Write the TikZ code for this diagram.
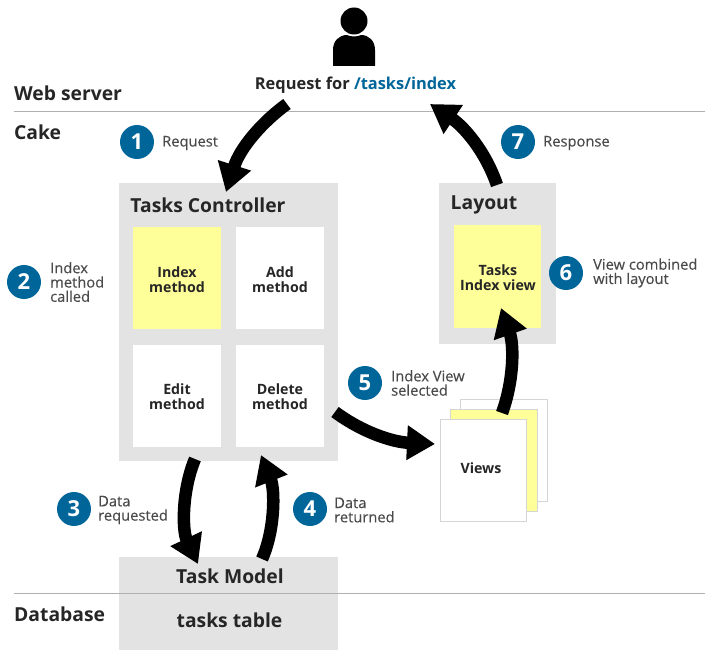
\documentclass[tikz,border=0pt]{standalone}
\usepackage{fontspec}
\setmainfont{Open Sans}
\newfontfamily\labfont[FakeBold=0.25]{Open Sans}
\usetikzlibrary{arrows.meta}
\definecolor{bluec}{HTML}{00669A}
\definecolor{greyb}{HTML}{E3E3E3}
\definecolor{yell}{HTML}{FFFF99}
\definecolor{rulec}{HTML}{B0B0B0}
\definecolor{edgec}{HTML}{D5D5D5}
\definecolor{labc}{HTML}{4A4A4A}
\tikzset{
  x=1pt,y=-1pt,
  panel/.style={fill=greyb,draw=none},
  card/.style={fill=white,draw=none},
  note/.style={fill=yell,draw=none},
  sheet/.style={draw=edgec,line width=1pt},
  head/.style={font=\fontsize{19.3}{23}\selectfont\bfseries\color{black!85}},
  sect/.style={font=\fontsize{19.3}{23}\selectfont\bfseries\color{black!85},anchor=west,inner sep=0pt},
  meth/.style={font=\fontsize{14.2}{15}\selectfont\bfseries\color{black!85},align=center},
  lab/.style={font=\labfont\fontsize{14.7}{14.3}\selectfont\color{labc},align=left,anchor=west,inner sep=0pt},
  badge/.style={circle,fill=bluec,text=white,minimum size=34pt,inner sep=0pt,font=\fontsize{22}{22}\selectfont\bfseries},
  flow/.style={line width=12.5pt,-{Triangle[width=33pt,length=28pt]},black},
}
\begin{document}
\begin{tikzpicture}
\useasboundingbox (0,0) rectangle (705,650);
% panels
\path[panel] (119,183) rectangle (338,461);
\path[panel] (439,183) rectangle (556,344);
\path[panel] (119,557) rectangle (338,650);
\path[note] (133,227) rectangle (221,329);
\path[card] (236,227) rectangle (324,329);
\path[card] (133,345) rectangle (221,447);
\path[card] (236,345) rectangle (324,447);
\path[note] (454,225) rectangle (541,328);
% rules
\coordinate (ruleA) at (14,112); \coordinate (ruleAe) at (705,112);
\coordinate (ruleB) at (14,593); \coordinate (ruleBe) at (705,593);
\draw[rulec,line width=1pt] (ruleA) -- (ruleAe);
\draw[rulec,line width=1pt] (ruleB) -- (ruleBe);
% views stack
\path[sheet,fill=white] (460,399) rectangle (547,501);
\path[sheet,fill=yell] (450,409) rectangle (537,511);
\path[sheet,fill=white] (440,419) rectangle (526,521);
% person
\fill[black] (354,21) circle (13.5);
\fill[black] (333,66) -- (333,50) .. controls (333,41) and (339,35) .. (347,35) .. controls (351,37) and (357,37) .. (361,35) .. controls (369,35) and (375,41) .. (375,50) -- (375,66) -- cycle;
% text
\node[font=\fontsize{16.4}{18}\selectfont\bfseries\color{black!85}] (req) at (355.5,85) {Request for \textcolor{bluec}{/tasks/index}};
\node[sect] (web) at (14,93) {Web server};
\node[sect] (cake) at (14,132) {Cake};
\node[sect] (db) at (14,614) {Database};
\node[head] (tc) at (208,205) {Tasks Controller};
\node[head] (lay) at (484,205) {Layout};
\node[head] (tm) at (230,576) {Task Model};
\node[head] (tt) at (229.5,620) {tasks table};
\node[meth] (m1) at (177,280) {Index\\method};
\node[meth] (m2) at (280,280) {Add\\method};
\node[meth] (m3) at (177,397) {Edit\\method};
\node[meth] (m4) at (280,397) {Delete\\method};
\node[meth] (tiv) at (498,278) {Tasks\\Index view};
\node[meth] (vw) at (481,468) {Views};
% badges
\node[badge] (b1) at (137,142) {1};
\node[badge] (b2) at (24,282) {2};
\node[badge] (b3) at (74,509) {3};
\node[badge] (b4) at (310,509) {4};
\node[badge] (b5) at (365,383) {5};
\node[badge] (b6) at (566,273) {6};
\node[badge] (b7) at (518,142) {7};
\node[lab] (l1) at (162,143) {Request};
\node[lab] (l2) at (50,282) {Index\\method\\called};
\node[lab] (l3) at (98,510) {Data\\requested};
\node[lab] (l4) at (334,510) {Data\\returned};
\node[lab] (l5) at (391,383) {Index View\\selected};
\node[lab] (l6) at (593,273) {View combined\\with layout};
\node[lab] (l7) at (543,143) {Response};
% connector ends
\coordinate (a1s) at (287,104); \coordinate (a1e) at (226,192);
\coordinate (a7s) at (497,185); \coordinate (a7e) at (430,104);
\coordinate (a3s) at (195,459); \coordinate (a3e) at (198,564);
\coordinate (a4s) at (262,559); \coordinate (a4e) at (261,455);
\coordinate (a5s) at (335,412); \coordinate (a5e) at (435,444);
\coordinate (a6s) at (502,413); \coordinate (a6e) at (501,308);
\draw[flow] (a1s) .. controls (262,122) and (240,148) .. (a1e);
\draw[flow] (a7s) .. controls (485,150) and (463,126) .. (a7e);
\draw[flow] (a3s) .. controls (182,490) and (182,530) .. (a3e);
\draw[flow] (a4s) .. controls (275,530) and (275,490) .. (a4e);
\draw[flow] (a5s) .. controls (362,432) and (392,442) .. (a5e);
\draw[flow] (a6s) .. controls (514,380) and (514,345) .. (a6e);
\end{tikzpicture}
\end{document}
